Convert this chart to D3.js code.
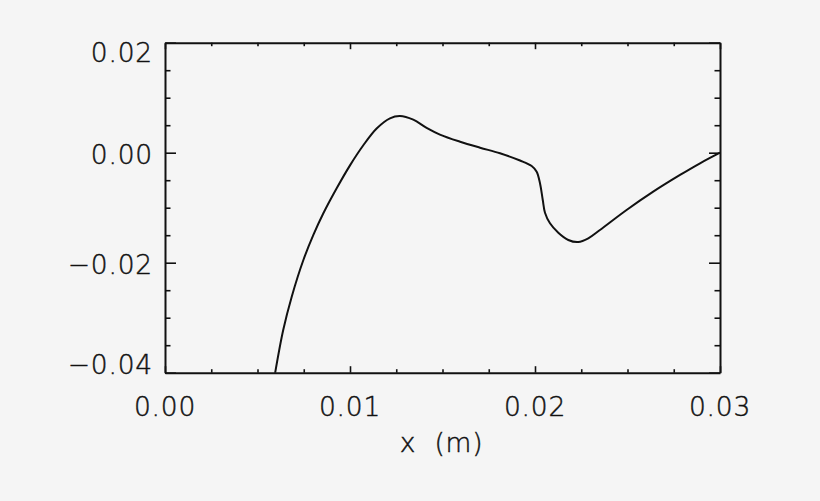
<!DOCTYPE html>
<html>
<head>
<meta charset="utf-8">
<script src="https://cdn.jsdelivr.net/npm/d3@7"></script>
<style>
  html, body { margin: 0; padding: 0; background: #f5f5f5; }
  svg text { font-family: 'DejaVu Sans', sans-serif; font-weight: 200; fill: #111; stroke: #111; stroke-width: 0.45px; letter-spacing: 0.8px; }
</style>
</head>
<body>
<div id="chart"></div>
<script>
// curve
const xValues = [0.00595, 0.00639, 0.00685, 0.00748, 0.00802, 0.00856, 0.00928, 0.01000, 0.01072, 0.01144,
  0.01216, 0.01270, 0.01342, 0.01414, 0.01486, 0.01595, 0.01703, 0.01811, 0.01919, 0.01982,
  0.02009, 0.02027, 0.02042, 0.02054, 0.02081, 0.02126, 0.02180, 0.02234, 0.02288, 0.02351,
  0.02495, 0.02639, 0.02784, 0.02892, 0.03000];
const yValues = [-0.0401, -0.03224, -0.02618, -0.01951, -0.01495, -0.01102, -0.00647, -0.00230, 0.00135, 0.00440,
  0.00625, 0.00667, 0.00600, 0.00452, 0.00330, 0.00200, 0.00091, -0.00011, -0.00142, -0.00242,
  -0.00345, -0.00556, -0.00860, -0.01091, -0.01284, -0.01455, -0.01587, -0.01624, -0.01556, -0.01405,
  -0.01042, -0.00709, -0.00405, -0.00193, 0.00000];

const xTicks = [0, 0.01, 0.02, 0.03];
const xTickLabels = ['0.00', '0.01', '0.02', '0.03'];
const yTicks = [-0.04, -0.02, 0, 0.02];
const yTickLabels = ['\u22120.04', '\u22120.02', '0.00', '0.02'];
const xTitle = 'x (m)';

const width = 820, height = 501;
const plotLeft = 165, plotRight = 720, plotTop = 42.7, plotBottom = 372.7;

const x = d3.scaleLinear().domain([0, 0.03]).range([plotLeft, plotRight]);
const y = d3.scaleLinear().domain([-0.04, 0.02]).range([plotBottom, plotTop]);

const svg = d3.select('#chart').append('svg')
  .attr('width', width)
  .attr('height', height);

svg.append('rect')
  .attr('width', width)
  .attr('height', height)
  .attr('fill', '#f5f5f5');

// minor ticks: 4 per major interval
const xMinor = d3.range(0, 0.03 + 1e-9, 0.0025);
const yMinor = d3.range(-0.04, 0.02 + 1e-9, 0.005);

const isMajor = (v, step) => Math.abs(v / step - Math.round(v / step)) < 1e-6;

// bottom and top axes
const xAxisBottom = d3.axisBottom(x).tickValues(xMinor).tickSizeInner(0).tickSizeOuter(0).tickFormat('');
svg.append('g').attr('transform', `translate(0,${plotBottom})`).call(xAxisBottom)
  .call(g => g.selectAll('.tick line')
    .attr('y2', d => isMajor(d, 0.01) ? -6.5 : -3.5));
const xAxisTop = d3.axisTop(x).tickValues(xMinor).tickSizeInner(0).tickSizeOuter(0).tickFormat('');
svg.append('g').attr('transform', `translate(0,${plotTop})`).call(xAxisTop)
  .call(g => g.selectAll('.tick line')
    .attr('y2', d => isMajor(d, 0.01) ? 6.5 : 3.5));

const yAxisLeft = d3.axisLeft(y).tickValues(yMinor).tickSizeInner(0).tickSizeOuter(0).tickFormat('');
svg.append('g').attr('transform', `translate(${plotLeft},0)`).call(yAxisLeft)
  .call(g => g.selectAll('.tick line')
    .attr('x2', d => isMajor(d, 0.02) ? 11 : 5.5));
const yAxisRight = d3.axisRight(y).tickValues(yMinor).tickSizeInner(0).tickSizeOuter(0).tickFormat('');
svg.append('g').attr('transform', `translate(${plotRight},0)`).call(yAxisRight)
  .call(g => g.selectAll('.tick line')
    .attr('x2', d => isMajor(d, 0.02) ? -11 : -5.5));

svg.selectAll('.domain').attr('stroke', '#111').attr('stroke-width', 2);
svg.selectAll('.tick line').attr('stroke', '#111').attr('stroke-width', 1.6);

// tick labels
svg.append('g').selectAll('text')
  .data(xTicks)
  .join('text')
  .attr('x', d => x(d))
  .attr('y', 415.5)
  .attr('text-anchor', 'middle')
  .attr('font-size', 26.5)
  .text((d, i) => xTickLabels[i]);

svg.append('g').selectAll('text')
  .data(yTicks)
  .join('text')
  .attr('x', 153)
  .attr('y', d => Math.max(plotTop + 19.5, Math.min(plotBottom + 1.5, y(d) + 11.5)))
  .attr('text-anchor', 'end')
  .attr('font-size', 26.5)
  .text((d, i) => yTickLabels[i]);

svg.append('text')
  .attr('x', (plotLeft + plotRight) / 2 - 1)
  .attr('y', 452)
  .attr('text-anchor', 'middle')
  .attr('font-size', 26.5)
  .attr('word-spacing', 9)
  .text(xTitle);

// curve
svg.append('clipPath').attr('id', 'plot-clip')
  .append('rect')
  .attr('x', plotLeft).attr('y', plotTop)
  .attr('width', plotRight - plotLeft).attr('height', plotBottom - plotTop);

const line = d3.line()
  .x((d, i) => x(xValues[i]))
  .y(d => y(d))
  .curve(d3.curveCatmullRom.alpha(0.5));

svg.append('path')
  .datum(yValues)
  .attr('clip-path', 'url(#plot-clip)')
  .attr('fill', 'none')
  .attr('stroke', '#111')
  .attr('stroke-width', 2)
  .attr('d', line);
</script>
</body>
</html>
